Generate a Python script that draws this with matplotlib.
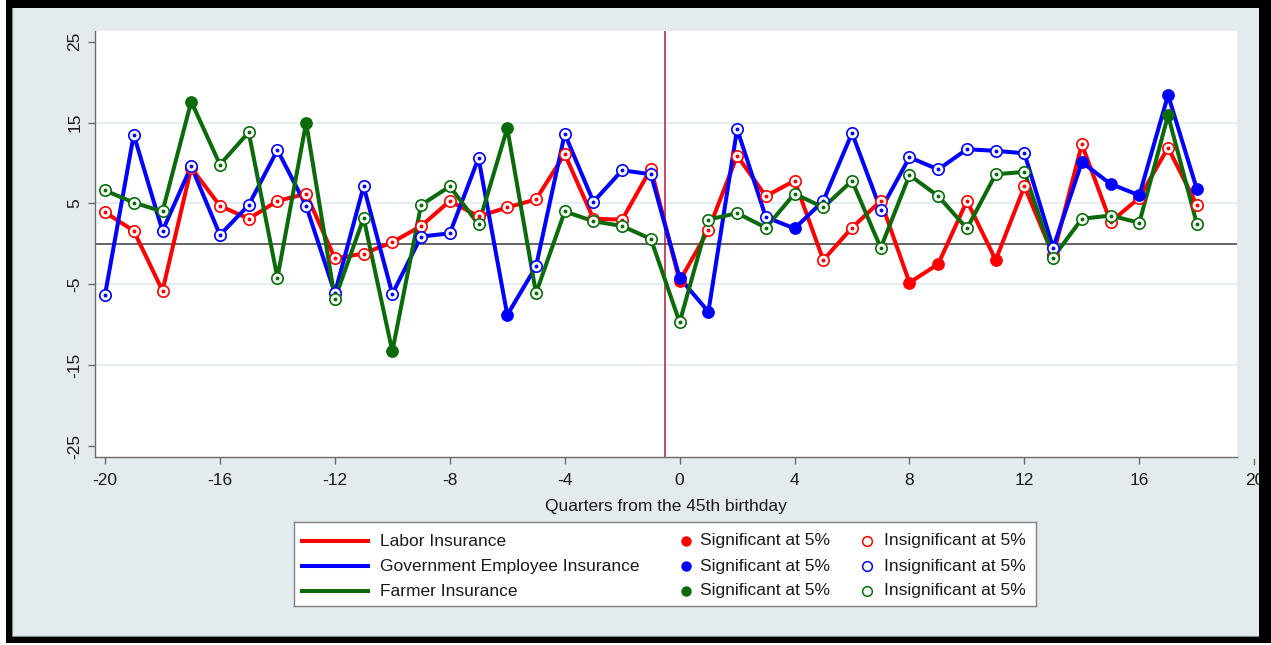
#!/usr/bin/env python3
"""Event-study coefficients around the 45th birthday, three insurance programmes."""
import matplotlib
matplotlib.use("Agg")
import matplotlib.pyplot as plt
from matplotlib.patches import Rectangle
from matplotlib.lines import Line2D
import matplotlib.transforms as mtransforms

plt.rcParams["font.family"] = ["Liberation Sans", "DejaVu Sans"]

W, H = 1271, 645

quarters = list(range(-20, 19))

labor = [3.9, 1.6, -5.8, 9.4, 4.7, 3.1, 5.3, 6.2, -1.8, -1.2,
         0.2, 2.2, 5.3, 3.4, 4.5, 5.5, 11.1, 3.1, 3.0, 9.3,
         -4.6, 1.7, 10.9, 5.9, 7.8, -2.0, 2.0, 5.3, -4.8, -2.5,
         5.3, -2.0, 7.1, -1.4, 12.3, 2.7, 5.7, 11.9, 4.8]
gov = [-6.3, 13.5, 1.6, 9.6, 1.1, 4.8, 11.6, 4.7, -6.1, 7.1,
       -6.2, 0.9, 1.3, 10.6, -8.8, -2.8, 13.6, 5.2, 9.1, 8.6,
       -4.2, -8.4, 14.2, 3.3, 1.9, 5.3, 13.7, 4.2, 10.7, 9.2,
       11.7, 11.5, 11.2, -0.5, 10.1, 7.4, 6.0, 18.4, 6.8]
farmer = [6.6, 5.1, 4.0, 17.6, 9.8, 13.8, -4.2, 15.0, -6.8, 3.2,
          -13.3, 4.8, 7.1, 2.4, 14.3, -6.1, 4.0, 2.8, 2.2, 0.6,
          -9.7, 3.0, 3.8, 2.0, 6.2, 4.5, 7.8, -0.5, 8.5, 5.9,
          1.9, 8.6, 8.9, -1.7, 3.1, 3.5, 2.6, 15.9, 2.5]

# quarters whose coefficient is significant at 5%
labor_sig = [0, 8, 9, 11]
gov_sig = [-6, 0, 1, 4, 14, 15, 16, 17, 18]
farmer_sig = [-17, -13, -10, -6, 17]

series_names = ["Labor Insurance", "Government Employee Insurance", "Farmer Insurance"]
colors = ["#ff0000", "#0000ff", "#0b6b0b"]

y_ticks = [-25, -15, -5, 5, 15, 25]
x_ticks = [-20, -16, -12, -8, -4, 0, 4, 8, 12, 16]

fig = plt.figure(figsize=(W / 100, H / 100), dpi=100)
fig.patch.set_facecolor("white")


def px_rect(x0, y0, x1, y1, **kw):
    # rectangle given in pixel coords measured from the top-left corner
    return Rectangle((x0 / W, 1 - y1 / H), (x1 - x0) / W, (y1 - y0) / H,
                     transform=fig.transFigure, **kw)


# screenshot frame and graph region
fig.patches.append(px_rect(6, 0, W, 643, facecolor="black", edgecolor="none", zorder=-3))
fig.patches.append(px_rect(12, 8, 1259, 636, facecolor="#e4ebee", edgecolor="none", zorder=-2))
fig.lines.append(Line2D([12 / W, 12 / W, 1259 / W], [1 - 8 / H, 1 - 636 / H, 1 - 636 / H],
                        transform=fig.transFigure, color="#7d898c", lw=0.8, zorder=-1))
fig.patches.append(px_rect(1259, 0, W, 643, facecolor="black", edgecolor="none", zorder=10))

ax = fig.add_axes([94.7 / W, 1 - 457.3 / H, (1237.3 - 94.7) / W, (457.3 - 30.7) / H])
ax.set_facecolor("white")
ax.set_xlim(-20.36, 19.41)
ax.set_ylim(-26.4, 26.36)

for y in [-15, -5, 5, 15]:
    ax.axhline(y, color="#e2ecee", lw=1.3, zorder=0)
ax.axhline(0, color="#3a3a3a", lw=1.1, zorder=1)
ax.axvline(-0.5, color="#b01c34", lw=1.1, zorder=1)

for vals, sig, col in zip([labor, gov, farmer], [labor_sig, gov_sig, farmer_sig], colors):
    ax.plot(quarters, vals, color=col, lw=2.9, zorder=2, solid_joinstyle="round")
    sx = [q for q in quarters if q in sig]
    sy = [v for q, v in zip(quarters, vals) if q in sig]
    ix = [q for q in quarters if q not in sig]
    iy = [v for q, v in zip(quarters, vals) if q not in sig]
    ax.plot(ix, iy, ls="none", marker="o", ms=8.2, mfc="white", mec=col, mew=1.2, zorder=3)
    ax.plot(ix, iy, ls="none", marker="o", ms=2.8, mfc=col, mec=col, mew=0, zorder=3)
    ax.plot(sx, sy, ls="none", marker="o", ms=9.2, mfc=col, mec=col, mew=0, zorder=3)

for s in ["top", "right"]:
    ax.spines[s].set_visible(False)
for s in ["left", "bottom"]:
    ax.spines[s].set_color("#6a6a6a")
    ax.spines[s].set_linewidth(1.0)

ax.set_yticks(y_ticks)
ax.set_yticklabels([str(t) for t in y_ticks], rotation=90, va="center")
ax.set_xticks(x_ticks)
ax.set_xticklabels([str(t) for t in x_ticks])
ax.tick_params(axis="both", direction="out", length=5, width=1.0, color="#6a6a6a",
               labelsize=12.5, labelcolor="#1a1a1a")
ax.tick_params(axis="x", pad=6)
ax.tick_params(axis="y", pad=4)

# the 20 tick sits past the end of the plot region
blend = mtransforms.blended_transform_factory(ax.transData, ax.transAxes)
ax.plot([20, 20], [-0.003, -0.015], transform=blend, color="#6a6a6a", lw=1.0, clip_on=False)
ax.annotate("20", xy=(20, 0), xycoords=blend, xytext=(0, -11), textcoords="offset points",
            ha="center", va="top", fontsize=12.5, color="#1a1a1a", annotation_clip=False)

ax.set_xlabel("Quarters from the 45th birthday", fontsize=12.5, color="#1a1a1a", labelpad=8)

# legend box built by hand: lines, significant dots, insignificant circles
lax = fig.add_axes([294 / W, 1 - 606 / H, 742 / W, 84 / H])
lax.set_xlim(0, 742)
lax.set_ylim(84, 0)
lax.set_xticks([])
lax.set_yticks([])
lax.set_facecolor("white")
for s in lax.spines.values():
    s.set_color("#808080")
    s.set_linewidth(1.0)

rows = [19, 44, 69]
for name, col, ry in zip(series_names, colors, rows):
    lax.plot([8, 74], [ry, ry], color=col, lw=2.9)
    lax.text(86, ry, name, va="center", ha="left", fontsize=12.5, color="#1a1a1a")
    lax.plot([392], [ry], marker="o", ms=7.5, mfc=col, mec=col, mew=0)
    lax.text(406, ry, "Significant at 5%", va="center", ha="left", fontsize=12.5, color="#1a1a1a")
    lax.plot([573], [ry], marker="o", ms=7, mfc="white", mec=col, mew=1.1)
    lax.text(590, ry, "Insignificant at 5%", va="center", ha="left", fontsize=12.5, color="#1a1a1a")

fig.savefig("out.png", dpi=100, facecolor=fig.get_facecolor())
